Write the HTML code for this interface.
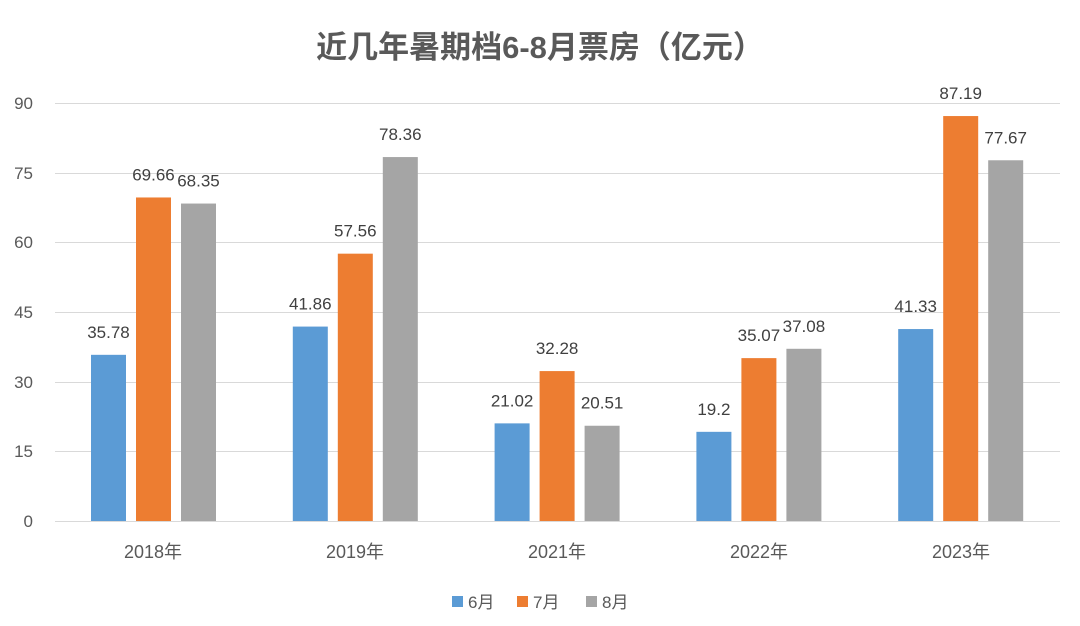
<!DOCTYPE html>
<html><head><meta charset="utf-8"><style>
body{margin:0;background:#fff;}
svg text{font-family:"Liberation Sans","Noto Sans CJK SC",sans-serif;}
</style></head><body>
<svg width="1080" height="621" viewBox="0 0 1080 621" xmlns="http://www.w3.org/2000/svg">
<rect width="1080" height="621" fill="#fff"/>
<text x="540" y="58" text-anchor="middle" font-size="31" font-weight="bold" fill="#595959">近几年暑期档6-8月票房（亿元）</text>
<g stroke="#d9d9d9" stroke-width="1">
<line x1="55" y1="103.5" x2="1060" y2="103.5"/>
<line x1="55" y1="173.5" x2="1060" y2="173.5"/>
<line x1="55" y1="242.5" x2="1060" y2="242.5"/>
<line x1="55" y1="312.5" x2="1060" y2="312.5"/>
<line x1="55" y1="382.5" x2="1060" y2="382.5"/>
<line x1="55" y1="451.5" x2="1060" y2="451.5"/>
<line x1="55" y1="521.5" x2="1060" y2="521.5"/>
</g>
<g font-size="17" fill="#595959" text-anchor="end">
<text x="33" y="109">90</text><text x="33" y="179">75</text><text x="33" y="248">60</text>
<text x="33" y="318">45</text><text x="33" y="388">30</text><text x="33" y="457">15</text><text x="33" y="527">0</text>
</g>
<g>
<rect x="91" y="354.82" width="35" height="166.18" fill="#5b9bd5"/>
<rect x="136" y="197.47" width="35" height="323.53" fill="#ed7d31"/>
<rect x="181" y="203.55" width="35" height="317.45" fill="#a5a5a5"/>
<rect x="292.8" y="326.58" width="35" height="194.42" fill="#5b9bd5"/>
<rect x="337.8" y="253.67" width="35" height="267.33" fill="#ed7d31"/>
<rect x="382.8" y="157.06" width="35" height="363.94" fill="#a5a5a5"/>
<rect x="494.6" y="423.37" width="35" height="97.63" fill="#5b9bd5"/>
<rect x="539.6" y="371.08" width="35" height="149.92" fill="#ed7d31"/>
<rect x="584.6" y="425.74" width="35" height="95.26" fill="#a5a5a5"/>
<rect x="696.4" y="431.83" width="35" height="89.17" fill="#5b9bd5"/>
<rect x="741.4" y="358.12" width="35" height="162.88" fill="#ed7d31"/>
<rect x="786.4" y="348.79" width="35" height="172.21" fill="#a5a5a5"/>
<rect x="898.2" y="329.05" width="35" height="191.95" fill="#5b9bd5"/>
<rect x="943.2" y="116.05" width="35" height="404.95" fill="#ed7d31"/>
<rect x="988.2" y="160.27" width="35" height="360.73" fill="#a5a5a5"/>
</g>
<g font-size="17" fill="#404040" text-anchor="middle" transform="translate(0,-5)">
<text x="108.5" y="342.8">35.78</text>
<text x="153.5" y="185.5">69.66</text>
<text x="198.5" y="191.5">68.35</text>
<text x="310.3" y="314.6">41.86</text>
<text x="355.3" y="241.7">57.56</text>
<text x="400.3" y="145.1">78.36</text>
<text x="512.1" y="411.4">21.02</text>
<text x="557.1" y="359.1">32.28</text>
<text x="602.1" y="413.7">20.51</text>
<text x="713.9" y="419.8">19.2</text>
<text x="758.9" y="346.1">35.07</text>
<text x="803.9" y="336.8">37.08</text>
<text x="915.7" y="317.1">41.33</text>
<text x="960.7" y="104.1">87.19</text>
<text x="1005.7" y="148.3">77.67</text>
</g>
<g font-size="18" fill="#595959" text-anchor="middle">
<text x="153" y="558">2018年</text><text x="355" y="558">2019年</text><text x="557" y="558">2021年</text>
<text x="759" y="558">2022年</text><text x="961" y="558">2023年</text>
</g>
<g font-size="17" fill="#595959">
<rect x="452" y="596" width="11" height="11" fill="#5b9bd5"/><text x="468" y="608">6月</text>
<rect x="517" y="596" width="11" height="11" fill="#ed7d31"/><text x="533" y="608">7月</text>
<rect x="586" y="596" width="11" height="11" fill="#a5a5a5"/><text x="602" y="608">8月</text>
</g>
</svg>
</body></html>
